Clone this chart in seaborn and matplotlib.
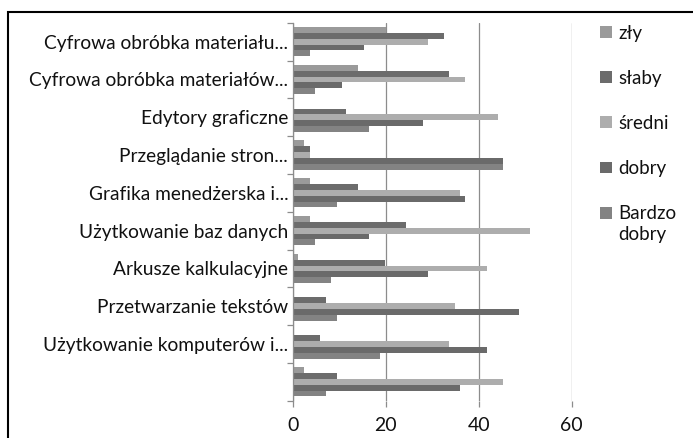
import pandas as pd
import matplotlib.pyplot as plt
import matplotlib.patches as mpatches
from matplotlib.ticker import FixedLocator
import seaborn as sns

# categories from top to bottom
categories = ['Cyfrowa obróbka materiału...',
              'Cyfrowa obróbka materiałów...',
              'Edytory graficzne',
              'Przeglądanie stron...',
              'Grafika menedżerska i...',
              'Użytkowanie baz danych',
              'Arkusze kalkulacyjne',
              'Przetwarzanie tekstów',
              'Użytkowanie komputerów i...',
              '']

levels = ['zły', 'słaby', 'średni', 'dobry', 'Bardzo dobry']

zly = [20.0, 13.9, 0.0, 2.4, 3.6, 3.6, 1.1, 0.0, 0.0, 2.4]
slaby = [32.5, 33.6, 11.5, 3.6, 13.9, 24.3, 19.7, 7.0, 5.9, 9.4]
sredni = [29.0, 37.0, 44.1, 3.6, 36.0, 51.0, 41.8, 34.9, 33.6, 45.2]
dobry = [15.2, 10.5, 27.9, 45.2, 37.0, 16.3, 29.0, 48.7, 41.8, 36.0]
bardzo_dobry = [3.6, 4.8, 16.3, 45.2, 9.4, 4.8, 8.1, 9.4, 18.7, 7.0]

colors = ['#9a9a9a', '#6c6c6c', '#adadad', '#6a6a6a', '#838383']

rows = []
for lev, vals in zip(levels, [zly, slaby, sredni, dobry, bardzo_dobry]):
    for cat, v in zip(categories, vals):
        rows.append({'kategoria': cat, 'ocena': lev, 'procent': v})
df = pd.DataFrame(rows)

sns.set_style('white')
plt.rcParams['font.family'] = ['Lato', 'DejaVu Sans']

fig = plt.figure(figsize=(6.93, 4.38), dpi=100)
ax = fig.add_axes([0.4228, 0.0852, 0.825 - 0.4228, 0.948 - 0.0852])

sns.barplot(data=df, y='kategoria', x='procent', hue='ocena',
            order=categories, hue_order=levels, palette=colors,
            orient='h', width=0.77, saturation=1, linewidth=0,
            ax=ax, legend=True)

ax.set_xlim(0, 60)
ax.set_ylim(len(categories) - 0.5, -0.5)
ax.set_xticks([0, 20, 40, 60])
ax.set_xlabel('')
ax.set_ylabel('')
ax.xaxis.grid(True, color='#8c8c8c', linewidth=0.9)
ax.set_axisbelow(True)

for s in ['top', 'right', 'bottom']:
    ax.spines[s].set_visible(False)
ax.spines['left'].set_color('#8c8c8c')
ax.spines['left'].set_linewidth(0.9)

ax.yaxis.set_minor_locator(FixedLocator([i - 0.5 for i in range(len(categories) + 1)]))
ax.tick_params(axis='y', which='major', length=0, pad=3.5, labelsize=13.8, labelcolor='#111111')
ax.tick_params(axis='y', which='minor', left=True, length=4, color='#8c8c8c', width=0.9)
ax.tick_params(axis='x', which='major', bottom=True, length=4.5, color='#8c8c8c', width=0.9,
               labelsize=14, pad=7, labelcolor='#111111')

handles, labels = ax.get_legend_handles_labels()
ax.get_legend().remove()
labels = ['Bardzo' if l == 'Bardzo dobry' else l for l in labels]
leg = fig.legend(handles, labels, loc='upper left', bbox_to_anchor=(0.842, 0.982),
                 frameon=False, fontsize=13.5, handlelength=0.6, handleheight=0.6,
                 handletextpad=0.35, labelspacing=1.5)
for t in leg.get_texts():
    t.set_color('#111111')

# second line of the last legend label
fig.canvas.draw()
bb = leg.get_texts()[-1].get_window_extent().transformed(fig.transFigure.inverted())
fig.text(bb.x0, bb.y0 - 0.008, 'dobry', ha='left', va='top', fontsize=13.5, color='#111111')

# outer chart border (cropped at right and bottom)
border = mpatches.Rectangle((8 / 693, -0.1), 1.2, (438 - 12) / 438 + 0.1,
                            transform=fig.transFigure, fill=False,
                            edgecolor='black', linewidth=1.5, clip_on=False)
fig.patches.append(border)

fig.savefig('out.png', dpi=100)
